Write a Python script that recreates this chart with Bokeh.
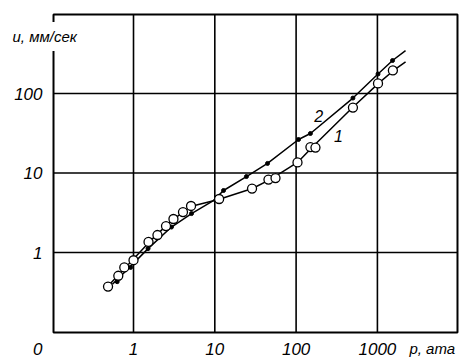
from bokeh.plotting import figure
from bokeh.models import Label, Range1d
from bokeh.core.properties import value
from bokeh.embed import file_html
from bokeh.resources import INLINE

# Series 1 (open circles)
s1_p = [0.486, 0.65, 0.77, 1.0, 1.53, 1.97, 2.51, 3.1, 4.06, 5.1, 11.3, 28.7, 45.7, 55.8, 104, 150, 173, 500, 1017, 1550]
s1_u = [0.373, 0.51, 0.65, 0.80, 1.36, 1.66, 2.15, 2.64, 3.23, 3.85, 4.71, 6.38, 8.28, 8.65, 13.6, 21.2, 20.9, 66.6, 134, 195]
# Curve 1
c1_p = [0.48, 1.0, 1.62, 2.85, 5.03, 11.1, 29, 48.4, 104, 159, 495, 1030, 1580, 2220]
c1_u = [0.373, 0.83, 1.41, 2.45, 3.79, 4.64, 6.38, 8.3, 13.6, 21.2, 66.6, 134, 195, 250]

# Series 2 (filled dots)
s2_p = [0.63, 0.92, 1.51, 2.93, 5.17, 12.8, 24.5, 44.5, 107, 150, 500, 1017, 1535]
s2_u = [0.43, 0.65, 1.12, 2.09, 3.09, 6.03, 9.03, 13.2, 26.4, 31.4, 87.7, 176, 260]
# Curve 2
c2_p = [0.55, 1.0, 1.51, 2.93, 5.17, 9.6, 12.8, 24.5, 44.5, 107, 150, 500, 1017, 1535, 2218]
c2_u = [0.40, 0.73, 1.12, 2.09, 3.09, 4.5, 6.03, 9.03, 13.2, 26.4, 31.4, 87.7, 176, 260, 347]

# Axes: ticks and labels
x_ticks = [1, 10, 100, 1000]
x_labels = ["1", "10", "100", "1000"]
y_ticks = [1, 10, 100]
y_labels = ["1", "10", "100"]
origin_label = "0"
x_title = "p, ата"
y_title = "и, мм/сек"
curve_names = ["1", "2"]
curve_name_p = [332, 189]
curve_name_u = [29.6, 52.9]

# plotting box limits (log axes)
x_min, x_max = 10 ** -0.984, 10 ** 3.985
y_min, y_max = 10 ** -1.006, 10 ** 2.994

FONT = "Liberation Sans"

p = figure(width=460, height=358, x_axis_type="log", y_axis_type="log",
           x_axis_location=None, y_axis_location=None,
           x_range=Range1d(10 ** -1.636, 10 ** 4.022),
           y_range=Range1d(10 ** -1.333, 10 ** 3.170),
           output_backend="svg", toolbar_location=None, min_border=0)

p.background_fill_color = "white"
p.border_fill_color = "white"
p.outline_line_color = None
p.xgrid.grid_line_color = None
p.ygrid.grid_line_color = None

# grid lines at ticks, bounded by the box
p.segment(x0=x_ticks, y0=[y_min] * len(x_ticks), x1=x_ticks, y1=[y_max] * len(x_ticks),
          line_color="black", line_width=1.6)
p.segment(x0=[x_min] * len(y_ticks), y0=y_ticks, x1=[x_max] * len(y_ticks), y1=y_ticks,
          line_color="black", line_width=1.6)
# frame box
p.quad(left=[x_min], right=[x_max], bottom=[y_min], top=[y_max],
       fill_color=None, line_color="black", line_width=2)

# data
p.line(c1_p, c1_u, line_color="black", line_width=1.5)
p.line(c2_p, c2_u, line_color="black", line_width=1.5)
p.scatter(s2_p, s2_u, size=4, marker="circle", fill_color="black", line_color="black")
p.scatter(s1_p, s1_u, size=9, marker="circle", fill_color="white", line_color="black", line_width=1.3)

tick_style = dict(text_font=value(FONT), text_font_style="italic", text_font_size="17px",
                  text_color="black", text_baseline="middle")

# tick labels
p.text(x=x_ticks, y=[y_min] * len(x_ticks), text=x_labels, y_offset=16, text_align="center", **tick_style)
p.text(x=[x_min] * len(y_ticks), y=y_ticks, text=y_labels, x_offset=-11, text_align="right", **tick_style)
p.text(x=[x_min], y=[y_min], text=[origin_label], x_offset=-11, y_offset=16, text_align="right", **tick_style)
p.text(x=[x_ticks[-1]], y=[y_min], text=[x_title], x_offset=32, y_offset=16, text_align="left",
       **{**tick_style, "text_font_size": "15px"})

# curve numbers
p.text(x=curve_name_p, y=curve_name_u, text=curve_names, text_align="center",
       **{**tick_style, "text_font_size": "16px"})

# y title over the frame, white background
p.add_layout(Label(x=x_min, y=y_max, x_offset=-47, y_offset=-22, text=y_title,
                   text_font=FONT, text_font_style="italic", text_font_size="15px",
                   text_color="black", text_align="left", text_baseline="middle",
                   background_fill_color="white", padding=6))

open("out.html", "w").write(file_html(p, INLINE))
